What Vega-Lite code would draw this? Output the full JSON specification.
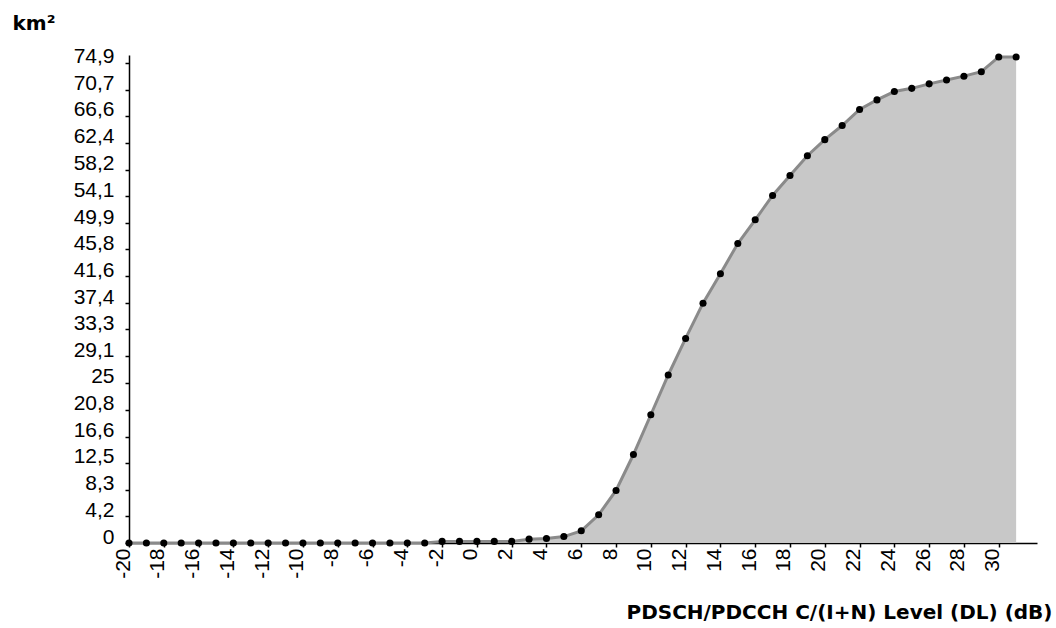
{
  "$schema": "https://vega.github.io/schema/vega-lite/v6.json",
  "width": 908,
  "height": 488,
  "autosize": {"type": "none"},
  "padding": {"left": 129, "top": 55, "right": 19, "bottom": 85},
  "background": "white",
  "config": {"view": {"stroke": null}},
  "data": {
    "values": [
      {"level": -20, "area": 0}, {"level": -19, "area": 0}, {"level": -18, "area": 0}, {"level": -17, "area": 0},
      {"level": -16, "area": 0}, {"level": -15, "area": 0}, {"level": -14, "area": 0}, {"level": -13, "area": 0},
      {"level": -12, "area": 0}, {"level": -11, "area": 0}, {"level": -10, "area": 0}, {"level": -9, "area": 0},
      {"level": -8, "area": 0}, {"level": -7, "area": 0}, {"level": -6, "area": 0}, {"level": -5, "area": 0},
      {"level": -4, "area": 0}, {"level": -3, "area": 0}, {"level": -2, "area": 0.25}, {"level": -1, "area": 0.25},
      {"level": 0, "area": 0.25}, {"level": 1, "area": 0.25}, {"level": 2, "area": 0.25}, {"level": 3, "area": 0.6},
      {"level": 4, "area": 0.7}, {"level": 5, "area": 1.0}, {"level": 6, "area": 1.9}, {"level": 7, "area": 4.4},
      {"level": 8, "area": 8.2}, {"level": 9, "area": 13.8}, {"level": 10, "area": 20.0}, {"level": 11, "area": 26.2},
      {"level": 12, "area": 31.9}, {"level": 13, "area": 37.4}, {"level": 14, "area": 42.0}, {"level": 15, "area": 46.7},
      {"level": 16, "area": 50.4}, {"level": 17, "area": 54.2}, {"level": 18, "area": 57.3}, {"level": 19, "area": 60.4},
      {"level": 20, "area": 62.9}, {"level": 21, "area": 65.1}, {"level": 22, "area": 67.6}, {"level": 23, "area": 69.1},
      {"level": 24, "area": 70.4}, {"level": 25, "area": 70.9}, {"level": 26, "area": 71.6}, {"level": 27, "area": 72.2},
      {"level": 28, "area": 72.8}, {"level": 29, "area": 73.5}, {"level": 30, "area": 75.8}, {"level": 31, "area": 75.8}
    ]
  },
  "encoding": {
    "x": {
      "field": "level",
      "type": "quantitative",
      "scale": {"domain": [-20, 32.2], "nice": false, "zero": false},
      "axis": {
        "values": [-20, -18, -16, -14, -12, -10, -8, -6, -4, -2, 0, 2, 4, 6, 8, 10, 12, 14, 16, 18, 20, 22, 24, 26, 28, 30],
        "labelExpr": "'' + datum.value",
        "grid": false,
        "labelAngle": 270,
        "labelAlign": "right",
        "labelBaseline": "alphabetic",
        "labelPadding": 1,
        "labelFont": "Liberation Sans",
        "labelFontSize": 21,
        "labelColor": "#000",
        "labelOverlap": false,
        "labelFlush": false,
        "tickSize": 4,
        "tickColor": "#000",
        "tickWidth": 1.5,
        "domainColor": "#000",
        "domainWidth": 1.5,
        "title": "PDSCH/PDCCH C/(I+N) Level (DL) (dB)",
        "titleFont": "DejaVu Sans",
        "titleFontWeight": "bold",
        "titleFontSize": 20,
        "titleColor": "#000",
        "titleAlign": "right",
        "titleBaseline": "alphabetic",
        "titleAnchor": null,
        "titleX": 923,
        "titleY": 75
      }
    },
    "y": {
      "field": "area",
      "type": "quantitative",
      "scale": {"domain": [0, 76.1], "nice": false},
      "axis": {
        "values": [0, 4.2, 8.3, 12.5, 16.6, 20.8, 25, 29.1, 33.3, 37.4, 41.6, 45.8, 49.9, 54.1, 58.2, 62.4, 66.6, 70.7, 74.9],
        "labelExpr": "replace(format(datum.value, '.1~f'), '.', ',')",
        "grid": false,
        "labelBaseline": "alphabetic",
        "labelPadding": 11,
        "labelFont": "Liberation Sans",
        "labelFontSize": 21,
        "labelColor": "#000",
        "labelOverlap": false,
        "labelFlush": false,
        "tickSize": 4,
        "tickColor": "#000",
        "tickWidth": 1.5,
        "domainColor": "#000",
        "domainWidth": 1.5,
        "title": "km²",
        "titleAngle": 0,
        "titleAlign": "left",
        "titleBaseline": "alphabetic",
        "titleAnchor": null,
        "titleX": -117,
        "titleY": -26,
        "titleFont": "DejaVu Sans",
        "titleFontWeight": "bold",
        "titleFontSize": 20,
        "titleColor": "#000"
      }
    }
  },
  "layer": [
    {"mark": {"type": "area", "color": "#C8C8C8", "opacity": 1}},
    {"mark": {"type": "line", "color": "#8A8A8A", "strokeWidth": 3}},
    {"mark": {"type": "point", "filled": true, "shape": "circle", "color": "#000", "size": 50, "opacity": 1}}
  ]
}
